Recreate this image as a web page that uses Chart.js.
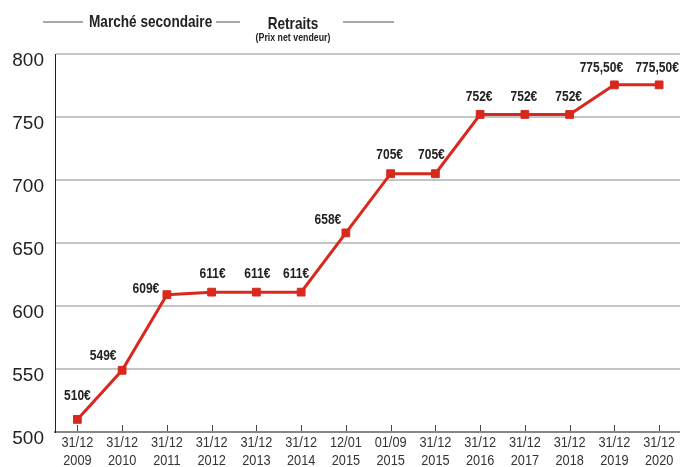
<!DOCTYPE html>
<html>
<head>
<meta charset="utf-8">
<script src="https://cdn.jsdelivr.net/npm/chart.js@4/dist/chart.umd.min.js"></script>
<style>
  body { margin: 0; background: #fff; overflow: hidden; }
  #wrap { position: relative; width: 680px; height: 467px; overflow: hidden; }
  .hd { position: absolute; font-family: "Liberation Sans", Arial, sans-serif; font-weight: bold; color: #222; white-space: nowrap; transform: scaleX(0.8); }
  .ln { position: absolute; height: 2px; background: #a8a8a8; top: 21px; }
</style>
</head>
<body>
<div id="wrap">
  <canvas id="myChart" width="688" height="467" style="position:absolute;left:0;top:0"></canvas>
  <div class="ln" style="left:43px;width:40px"></div>
  <div class="hd" style="left:89px;top:12px;font-size:17px;transform-origin:left center">Marché secondaire</div>
  <div class="ln" style="left:216px;width:24px"></div>
  <div class="hd" style="left:243px;width:100px;text-align:center;top:14px;font-size:17px">Retraits</div>
  <div class="hd" style="left:233px;width:120px;text-align:center;top:31px;font-size:11px">(Prix net vendeur)</div>
  <div class="ln" style="left:343px;width:51px"></div>
</div>
<script>
const dates = [
  ['31/12', '2009'], ['31/12', '2010'], ['31/12', '2011'], ['31/12', '2012'],
  ['31/12', '2013'], ['31/12', '2014'], ['12/01', '2015'], ['01/09', '2015'],
  ['31/12', '2015'], ['31/12', '2016'], ['31/12', '2017'], ['31/12', '2018'],
  ['31/12', '2019'], ['31/12', '2020']
];
const prices = [510, 549, 609, 611, 611, 611, 658, 705, 705, 752, 752, 752, 775.5, 775.5];
const priceLabels = ['510€', '549€', '609€', '611€', '611€', '611€', '658€', '705€', '705€', '752€', '752€', '752€', '775,50€', '775,50€'];
const yTicks = [500, 550, 600, 650, 700, 750, 800];

// where each value label sits relative to its point
const labelShift = [[0, -24], [-19, -14], [-21, -6], [1, -18], [1, -18], [-5, -18], [-18, -13],
  [-1, -19], [-4, -19], [-1, -18], [-1, -18], [-1, -18], [-13, -17], [-2, -17]];

const sans = '"Liberation Sans", Arial, sans-serif';

// draw text squeezed horizontally to mimic a condensed face
function narrowText(ctx, txt, x, y, sx) {
  ctx.save();
  ctx.translate(x, y);
  ctx.scale(sx, 1);
  ctx.fillText(txt, 0, 0);
  ctx.restore();
}

const valueLabels = {
  id: 'valueLabels',
  afterDatasetsDraw(chart) {
    const ctx = chart.ctx;
    const meta = chart.getDatasetMeta(0);
    ctx.save();
    ctx.font = 'bold 15px ' + sans;
    ctx.fillStyle = '#222';
    ctx.textAlign = 'center';
    ctx.textBaseline = 'middle';
    meta.data.forEach((pt, i) => {
      narrowText(ctx, priceLabels[i], pt.x + labelShift[i][0], pt.y + labelShift[i][1], 0.8);
    });
    ctx.restore();
  }
};

// tick marks pointing up from the x axis, plus the two-line date labels
const xDecor = {
  id: 'xDecor',
  afterDraw(chart) {
    const ctx = chart.ctx;
    const x = chart.scales.x;
    const bottom = chart.chartArea.bottom;
    ctx.save();
    ctx.strokeStyle = '#444';
    ctx.lineWidth = 1;
    ctx.fillStyle = '#333';
    ctx.font = '15px ' + sans;
    ctx.textAlign = 'center';
    ctx.textBaseline = 'middle';
    for (let i = 0; i < dates.length; i++) {
      const px = x.getPixelForTick(i);
      const lx = Math.round(px) + 0.5;
      ctx.beginPath();
      ctx.moveTo(lx, bottom - 7);
      ctx.lineTo(lx, bottom - 1);
      ctx.stroke();
      narrowText(ctx, dates[i][0], px, bottom + 11, 0.85);
      narrowText(ctx, dates[i][1], px, bottom + 29, 0.85);
    }
    ctx.restore();
  }
};

new Chart(document.getElementById('myChart'), {
  type: 'line',
  data: {
    labels: dates,
    datasets: [{
      data: prices,
      borderColor: '#d8291f',
      backgroundColor: '#d8291f',
      borderWidth: 3,
      pointStyle: 'rect',
      pointRadius: 5.5,
      pointHoverRadius: 5.5,
      pointBorderWidth: 1,
      tension: 0
    }]
  },
  options: {
    responsive: false,
    animation: false,
    layout: { padding: { top: 54, right: 0, left: 0, bottom: 0 } },
    plugins: { legend: { display: false }, tooltip: { enabled: false } },
    scales: {
      x: {
        offset: true,
        grid: { display: false, drawTicks: false },
        border: { color: '#888', width: 2 },
        ticks: { display: false },
        afterFit: s => { s.height = 35; s.paddingRight = 0; s.paddingLeft = 0; }
      },
      y: {
        min: 500,
        max: 800,
        afterBuildTicks: s => { s.ticks = yTicks.map(v => ({ value: v })); },
        afterFit: s => { s.width = 55; },
        grid: { color: '#c4c4c4', lineWidth: 2, drawTicks: false },
        border: { color: '#222', width: 1 },
        ticks: {
          color: '#222',
          font: { family: sans, size: 19 },
          padding: 11,
          labelOffset: 7
        }
      }
    }
  },
  plugins: [valueLabels, xDecor]
});
</script>
</body>
</html>
